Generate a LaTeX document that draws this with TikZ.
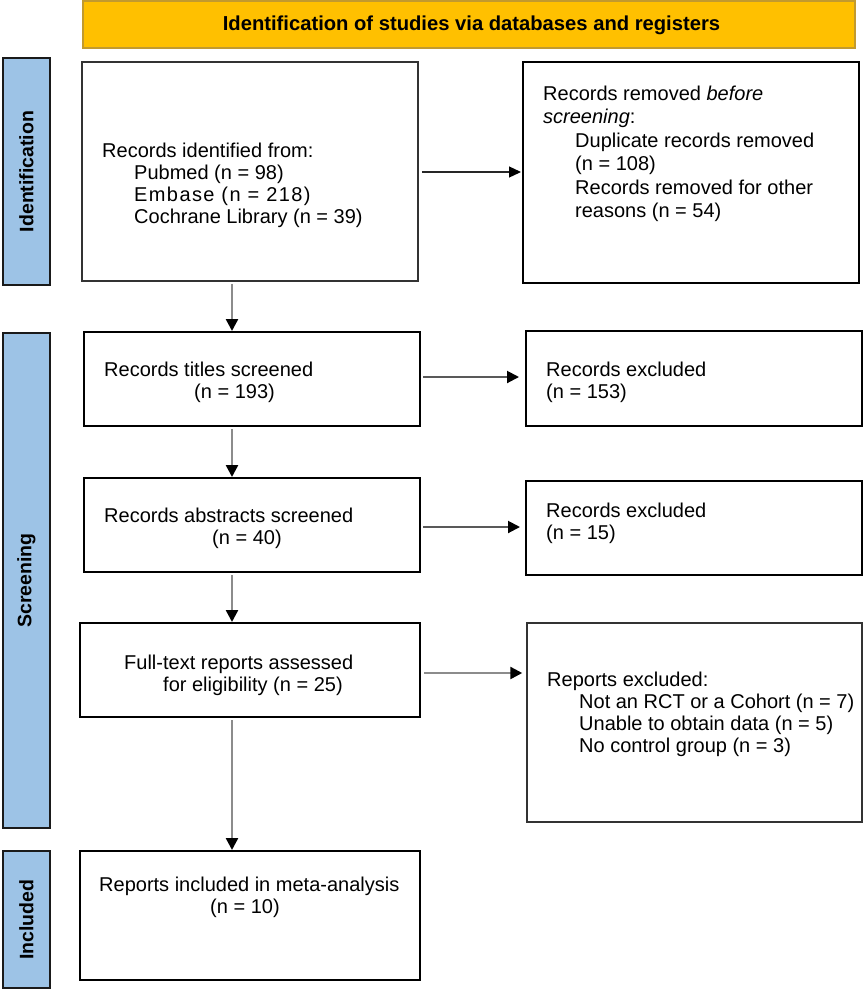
\documentclass[tikz,border=0pt]{standalone}
\usepackage{fontspec}
\setmainfont{Liberation Sans}
\usetikzlibrary{arrows.meta}
\definecolor{banfill}{HTML}{FFC000}
\definecolor{banline}{HTML}{C29A2E}
\definecolor{sidefill}{HTML}{9DC3E6}
\definecolor{sideline}{HTML}{1A1A1A}
\definecolor{arrgray}{HTML}{8C8C8C}
\tikzset{
  box/.style={draw=black, line width=2pt, fill=white, inner sep=0pt},
  thinbox/.style={draw=black!80, line width=1.5pt, fill=white, inner sep=0pt},
  side/.style={draw=sideline, line width=2pt, fill=sidefill, inner sep=0pt},
  banner/.style={draw=banline, line width=2pt, fill=banfill, inner sep=0pt},
  txt/.style={inner sep=0pt, align=left, anchor=west, font=\fontsize{20pt}{22pt}\selectfont},
  sidetxt/.style={inner sep=0pt, rotate=90, font=\fontsize{19.5pt}{22pt}\selectfont\bfseries},
  arr/.style={draw=arrgray, line width=2.5pt, -{Triangle[length=12pt,width=12pt,fill=black,color=black]}},
  arrthin/.style={draw=black!85, line width=1.3pt, -{Triangle[length=12pt,width=11pt,fill=black,color=black]}},
  arrmid/.style={draw=black!65, line width=2pt, -{Triangle[length=12pt,width=12pt,fill=black,color=black]}}
}
\newcommand{\bx}[6]{% style, name, x1, y1, x2, y2
  \node[#1, minimum width={(#5-#3)*1pt}, minimum height={(#6-#4)*1pt}] (#2) at ({(#3+#5)/2},{(#4+#6)/2}) {};}
\begin{document}
\begin{tikzpicture}[x=1pt,y=-1pt]
\useasboundingbox (0,0) rectangle (864,989);
% banner
\bx{banner}{ban}{83}{1}{855}{48}
\node[inner sep=0pt, font=\fontsize{20.2pt}{22pt}\selectfont\bfseries] (bantxt) at (471.5,25) {Identification of studies via databases and registers};
% side bars
\bx{side}{sid}{3}{58}{50}{285}
\bx{side}{sscr}{3}{333}{50}{828}
\bx{side}{sinc}{3}{851}{50}{988}
\node[sidetxt] (sidtxt) at (sid.center) {Identification};
\node[sidetxt] (sscrtxt) at (sscr.center) {Screening};
\node[sidetxt] (sinctxt) at (sinc.center) {Included};
% boxes
\bx{thinbox}{b1}{82}{62}{418}{281}
\bx{box}{b2}{523}{62}{859}{283}
\bx{box}{b3}{84}{332}{420}{426}
\bx{box}{b4}{526}{331}{862}{426}
\bx{box}{b5}{84}{478}{420}{572}
\bx{box}{b6}{526}{481}{862}{575}
\bx{box}{b7}{80}{623}{420}{717}
\bx{thinbox}{b8}{527}{623}{862}{822}
\bx{box}{b9}{80}{851}{420}{980}
% texts
\node[txt] (t1) at (102,185.5) {Records identified from:\\
\hspace*{32pt}Pubmed (n = 98)\\
\hspace*{32pt}{\addfontfeature{LetterSpace=7}Embase (n = 218)}\\
\hspace*{32pt}Cochrane Library (n = 39)};
\node[txt, font=\fontsize{20pt}{23.5pt}\selectfont] (t2) at (543,154) {Records removed \textit{before}\\
\textit{screening}:\\
\hspace*{32pt}Duplicate records removed\\
\hspace*{32pt}(n = 108)\\
\hspace*{32pt}Records removed for other\\
\hspace*{32pt}reasons (n = 54)};
\node[txt] (t3) at (104,382) {Records titles screened\\\hspace*{90pt}(n = 193)};
\node[txt] (t4) at (546,382) {Records excluded\\(n = 153)};
\node[txt] (t5) at (104,528.5) {Records abstracts screened\\\hspace*{108pt}(n = 40)};
\node[txt] (t6) at (546,523) {Records excluded\\(n = 15)};
\node[txt] (t7) at (124,675) {Full-text reports assessed\\\hspace*{39pt}for eligibility (n = 25)};
\node[txt] (t8) at (547,714.5) {Reports excluded:\\
\hspace*{32pt}Not an RCT or a Cohort (n = 7)\\
\hspace*{32pt}Unable to obtain data (n = 5)\\
\hspace*{32pt}No control group (n = 3)};
\node[txt] (t9) at (99,897) {Reports included in meta-analysis\\\hspace*{111pt}(n = 10)};
% connectors
\coordinate (axis) at (232,0);
\coordinate (h1) at (0,172);
\coordinate (h2) at (0,377);
\coordinate (h3) at (0,527);
\coordinate (h4) at (0,673);
\draw[arr, shorten <=2pt] (b1.south -| axis) -- (b3.north -| axis);
\draw[arr, shorten <=2pt] (b3.south -| axis) -- (b5.north -| axis);
\draw[arr, shorten <=2pt] (b5.south -| axis) -- (b7.north -| axis);
\draw[arr, shorten <=2pt] (b7.south -| axis) -- (b9.north -| axis);
\draw[arrthin, shorten <=3pt, shorten >=1pt] (b1.east |- h1) -- (b2.west |- h1);
\draw[arrmid, shorten <=2pt, shorten >=6pt] (b3.east |- h2) -- (b4.west |- h2);
\draw[arrmid, shorten <=2pt, shorten >=5pt] (b5.east |- h3) -- (b6.west |- h3);
\draw[arr, shorten <=3pt, shorten >=4pt] (b7.east |- h4) -- (b8.west |- h4);
\end{tikzpicture}
\end{document}
